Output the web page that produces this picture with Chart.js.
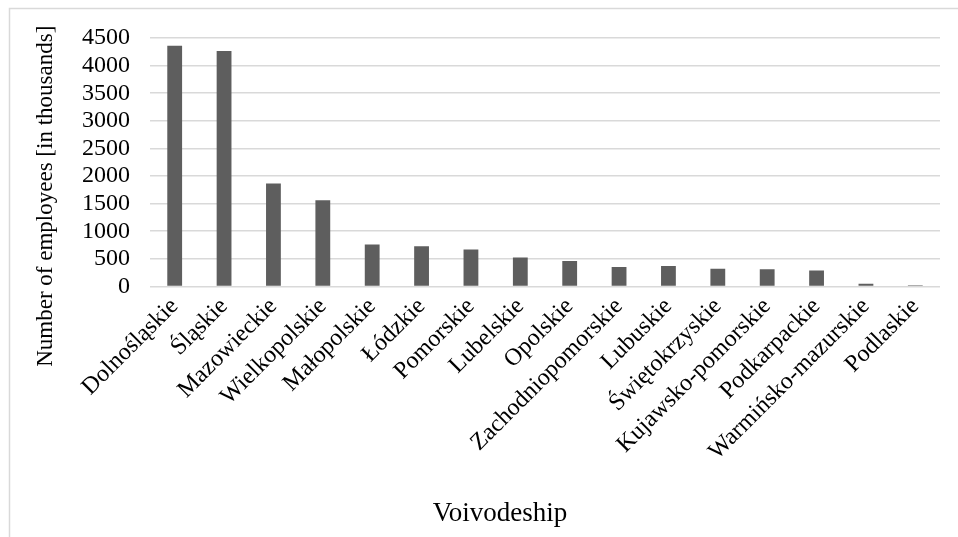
<!DOCTYPE html>
<html>
<head>
<meta charset="utf-8">
<script src="https://cdn.jsdelivr.net/npm/chart.js@4/dist/chart.umd.min.js"></script>
<style>
  html, body { margin: 0; padding: 0; background: #ffffff; }
  #wrap { width: 958px; height: 537px; position: relative; }
</style>
</head>
<body>
<div id="wrap"><canvas id="chart" width="958" height="537"></canvas></div>
<script>
// Employees per voivodeship, in thousands
const voivodeships = [
  'Dolnośląskie', 'Śląskie', 'Mazowieckie', 'Wielkopolskie', 'Małopolskie',
  'Łódzkie', 'Pomorskie', 'Lubelskie', 'Opolskie', 'Zachodniopomorskie',
  'Lubuskie', 'Świętokrzyskie', 'Kujawsko-pomorskie', 'Podkarpackie',
  'Warmińsko-mazurskie', 'Podlaskie'
];
const employees = [4360, 4265, 1865, 1560, 760, 730, 670, 525, 460, 350, 370, 320, 310, 290, 50, 20];
const yTicks = [0, 500, 1000, 1500, 2000, 2500, 3000, 3500, 4000, 4500];
const xTitle = 'Voivodeship';
const yTitle = 'Number of employees [in thousands]';

const serif = "'Liberation Serif', 'Times New Roman', serif";

// thin frame along the top and left edges of the chart
const framePlugin = {
  id: 'frame',
  beforeDraw(chart) {
    const ctx = chart.ctx;
    ctx.save();
    ctx.strokeStyle = '#d9d9d9';
    ctx.lineWidth = 1.5;
    ctx.beginPath();
    ctx.moveTo(9.5, chart.height);
    ctx.lineTo(9.5, 8.5);
    ctx.lineTo(chart.width, 8.5);
    ctx.stroke();
    ctx.restore();
  }
};

// axis titles, centred on the whole chart block rather than the plot area
const axisTitlePlugin = {
  id: 'axisTitles',
  afterDraw(chart) {
    const ctx = chart.ctx;
    const area = chart.chartArea;
    ctx.save();
    ctx.fillStyle = '#000000';
    ctx.textAlign = 'center';
    ctx.textBaseline = 'middle';

    ctx.font = '27px ' + serif;
    ctx.fillText(xTitle, (area.left + area.right) / 2 - 45, chart.height - 23);

    ctx.font = '23px ' + serif;
    ctx.translate(46, (area.top + area.bottom) / 2 + 34);
    ctx.rotate(-Math.PI / 2);
    ctx.fillText(yTitle, 0, 0);
    ctx.restore();
  }
};

new Chart(document.getElementById('chart'), {
  type: 'bar',
  data: {
    labels: voivodeships,
    datasets: [{
      data: employees,
      backgroundColor: '#5e5e5e',
      borderWidth: 0,
      barPercentage: 0.3,
      categoryPercentage: 1.0
    }]
  },
  options: {
    responsive: false,
    animation: false,
    layout: { padding: { left: 62, right: 18, top: 38, bottom: 65 } },
    plugins: { legend: { display: false }, tooltip: { enabled: false } },
    scales: {
      x: {
        grid: { display: false, drawTicks: false },
        border: { display: false },
        ticks: {
          color: '#000000',
          font: { family: serif, size: 24 },
          minRotation: 45,
          maxRotation: 45,
          autoSkip: false,
          padding: 6
        }
      },
      y: {
        min: 0,
        max: 4500,
        afterBuildTicks(axis) { axis.ticks = yTicks.map(v => ({ value: v })); },
        grid: { color: '#d9d9d9', lineWidth: 1.5, drawTicks: false },
        border: { display: false },
        ticks: {
          color: '#000000',
          font: { family: serif, size: 24 },
          padding: 20,
          autoSkip: false,
          callback: (v) => String(v)
        }
      }
    }
  },
  plugins: [framePlugin, axisTitlePlugin]
});
</script>
</body>
</html>
